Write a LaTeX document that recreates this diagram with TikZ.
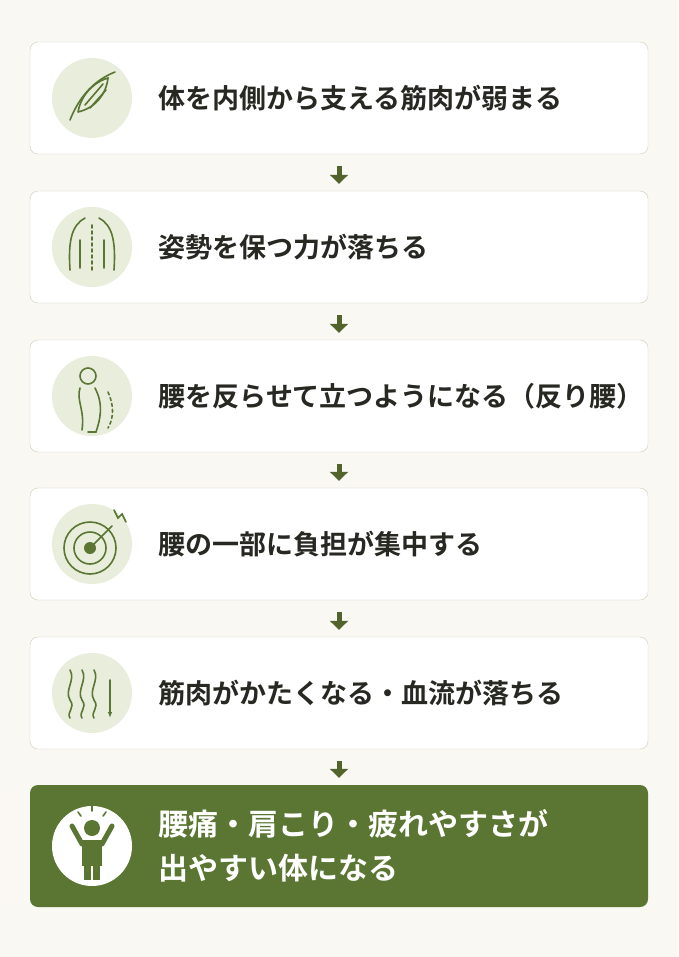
\documentclass[tikz,border=0pt]{standalone}
\usepackage{fontspec}
\newfontfamily\jpfont{Noto Sans CJK JP}[BoldFont={* Bold}]
\usetikzlibrary{positioning,arrows.meta}
\definecolor{paper}{RGB}{250,248,243}
\definecolor{olive}{RGB}{90,118,50}
\definecolor{darkolive}{RGB}{82,100,44}
\definecolor{pale}{RGB}{232,237,220}
\definecolor{rim}{RGB}{205,205,185}
\definecolor{ink}{RGB}{40,40,35}
\tikzset{
  stepbox/.style={draw=rim, fill=white, rounded corners=8pt, minimum width=618pt, minimum height=112pt},
  lastbox/.style={fill=olive, rounded corners=8pt, minimum width=618pt, minimum height=122pt},
  badge/.style={circle, fill=pale, minimum size=80pt},
  caption/.style={font=\jpfont\bfseries\fontsize{27}{40}\selectfont, text=ink, anchor=west, align=left},
  link/.style={-{Triangle[length=9pt,width=18pt]}, line width=5pt, darkolive},
  pic/.style={olive, line width=1.6pt, line cap=round}
}
\begin{document}
\begin{tikzpicture}[x=1pt,y=-1pt]
\fill[paper] (0,0) rectangle (678,957);
\useasboundingbox (0,0) rectangle (678,957);
% boxes
\node[stepbox] (s1) at (339,98) {};
\node[stepbox] (s2) at (339,247) {};
\node[stepbox] (s3) at (339,396) {};
\node[stepbox] (s4) at (339,544) {};
\node[stepbox] (s5) at (339,693) {};
\node[lastbox] (s6) at (339,846) {};
% badges
\foreach \i in {1,...,5}
  \node[badge] (b\i) at ([xshift=-247pt]s\i.center) {};
\node[badge, fill=white] (b6) at ([xshift=-247pt]s6.center) {};
% texts
\node[caption] at (155,98) {体を内側から支える筋肉が弱まる};
\node[caption] at (155,247) {姿勢を保つ力が落ちる};
\node[caption] at (155,396) {腰を反らせて立つようになる（反り腰）};
\node[caption] at (155,544) {腰の一部に負担が集中する};
\node[caption] at (155,693) {筋肉がかたくなる・血流が落ちる};
\node[caption, text=white, font=\jpfont\bfseries\fontsize{30}{44}\selectfont] at (155,846) {腰痛・肩こり・疲れやすさが\\出やすい体になる};
% arrows
\foreach \i/\j in {1/2,2/3,3/4,4/5,5/6}
  \draw[link] ([yshift=-12pt]s\i.south) -- ([yshift=7pt]s\j.north);
% icon 1: muscle
\draw[pic] (70,120) .. controls (80,95) and (95,80) .. (115,72);
\draw[pic] (78,112) .. controls (82,90) and (100,80) .. (108,78) .. controls (106,95) and (95,108) .. (78,112);
\draw[pic] (85,105) -- (103,84);
\draw[pic] (90,108) -- (106,90);
% icon 2: back
\draw[pic] (70,270) .. controls (68,240) and (72,225) .. (85,218);
\draw[pic] (114,270) .. controls (116,240) and (112,225) .. (99,218);
\draw[pic, dashed] (92,225) -- (92,270);
\draw[pic] (80,240) -- (80,268);
\draw[pic] (104,240) -- (104,268);
% icon 3: posture
\draw[pic] (88,376) circle (8);
\draw[pic] (80,388) .. controls (76,400) and (85,410) .. (82,430);
\draw[pic] (95,388) .. controls (104,405) and (100,420) .. (96,432);
\draw[pic] (88,432) -- (96,432);
\draw[pic, dashed] (108,392) .. controls (114,405) and (114,418) .. (108,428);
% icon 4: target
\draw[pic] (90,548) circle (26);
\draw[pic] (90,548) circle (16);
\fill[olive] (90,548) circle (6);
\draw[pic] (90,548) -- (112,526);
\draw[pic] (114,510) -- (118,518) -- (122,514) -- (126,522);
% icon 5: wavy lines
\foreach \xo in {70,82,94}
  \draw[pic] (\xo,670) .. controls (\xo+6,680) and (\xo-6,690) .. (\xo,700) .. controls (\xo+6,708) and (\xo-4,712) .. (\xo,718);
\draw[pic, -{Latex[length=6pt]}] (110,680) -- (110,718);
% icon 6: person
\fill[olive] (92,828) circle (8);
\fill[olive] (82,840) rectangle (102,866);
\fill[olive] (84,864) rectangle (91,880);
\fill[olive] (93,864) rectangle (100,880);
\draw[olive, line width=5pt, line cap=round] (82,844) -- (72,826);
\draw[olive, line width=5pt, line cap=round] (102,844) -- (112,826);
\draw[pic] (78,812) -- (81,816) (92,806) -- (92,811) (106,812) -- (103,816);
\end{tikzpicture}
\end{document}
